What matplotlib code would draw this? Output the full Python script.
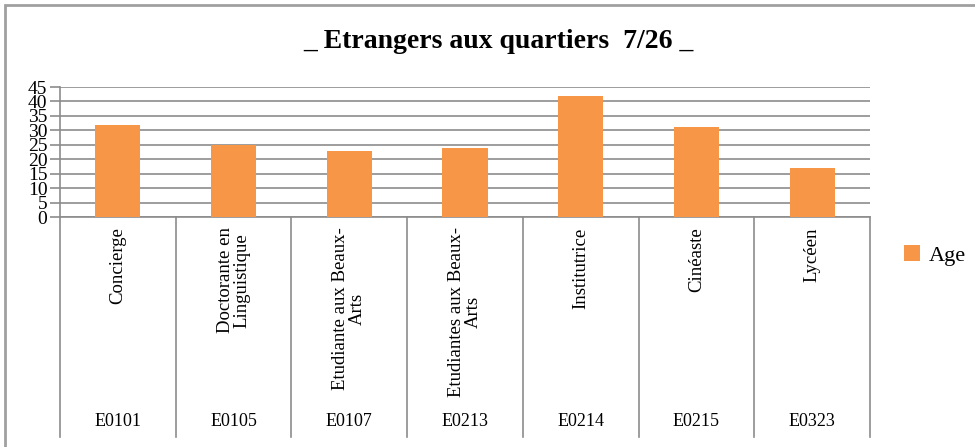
import matplotlib.pyplot as plt
from matplotlib.patches import Rectangle

plt.rcParams['font.family'] = ['Liberation Serif', 'DejaVu Serif']

codes = ["E0101", "E0105", "E0107", "E0213", "E0214", "E0215", "E0323"]
jobs = ["Concierge", "Doctorante en\nLinguistique", "Etudiante aux Beaux-\nArts",
        "Etudiantes aux Beaux-\nArts", "Institutrice", "Cinéaste", "Lycéen"]
ages = [32, 25, 23, 24, 42, 31, 17]
yticks = list(range(0, 50, 5))

W, H = 975, 447
fig = plt.figure(figsize=(W / 100, H / 100), dpi=100)
ax = fig.add_axes([60 / W, 1 - 217 / H, 810 / W, 130 / H])

grid_c = '#8c8c8c'
x = list(range(len(ages)))
ax.bar(x, ages, width=0.39, color='#F79646', label='Age', zorder=3)

ax.set_xlim(-0.5, len(ages) - 0.5)
ax.set_ylim(0, 45)
ax.set_yticks(yticks)
ax.set_yticklabels([str(t) for t in yticks], fontsize=14)
ax.yaxis.grid(True, color=grid_c, lw=1.2, zorder=0)
ax.tick_params(axis='y', length=7, color=grid_c, width=1.2, pad=2)
ax.set_xticks([])
for s in ['top', 'right']:
    ax.spines[s].set_visible(False)
for s in ['left', 'bottom']:
    ax.spines[s].set_color(grid_c)
    ax.spines[s].set_linewidth(1.2)

# category separators and two-level labels
tr = ax.get_xaxis_transform()
bottom = -(437 - 217) / 130
for i in range(len(ages) + 1):
    ax.plot([i - 0.5, i - 0.5], [0, bottom], color=grid_c, lw=1.2,
            transform=tr, clip_on=False)
for i, (job, code) in enumerate(zip(jobs, codes)):
    ax.text(i, -0.08, job, rotation=90, ha='center', va='top',
            multialignment='center', fontsize=13.5, transform=tr,
            linespacing=1.0)
    ax.text(i, -(421 - 217) / 130, code, ha='center', va='center',
            fontsize=13, transform=tr)

fig.text(0.511, 1 - 42 / H, "_ Etrangers aux quartiers  7/26 _",
         ha='center', va='center', fontsize=20, fontweight='bold')

fig.legend(loc='upper left', bbox_to_anchor=(884 / W, 1 - 225 / H),
           frameon=False, fontsize=16, handlelength=0.7, handleheight=0.7,
           handletextpad=0.4)

fig.patches.append(Rectangle((5 / W, -0.05), 1.05, 1 - 5 / H + 0.05,
                             transform=fig.transFigure, fill=False,
                             edgecolor='#a0a0a0', lw=2))

fig.savefig("out.png", dpi=100)
